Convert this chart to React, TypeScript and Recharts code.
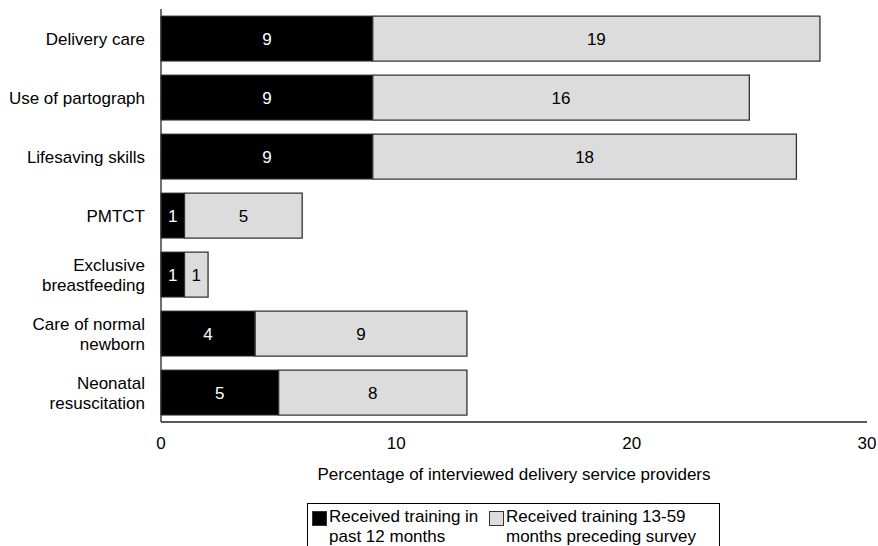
import React from 'react';
import { BarChart, Bar, XAxis, YAxis, Legend, LabelList } from 'recharts';

const categories = [
  'Delivery care',
  'Use of partograph',
  'Lifesaving skills',
  'PMTCT',
  'Exclusive\nbreastfeeding',
  'Care of normal\nnewborn',
  'Neonatal\nresuscitation',
];
const recent = [9, 9, 9, 1, 1, 4, 5];
const earlier = [19, 16, 18, 5, 1, 9, 8];
const xTicks = [0, 10, 20, 30];

const seriesNames = {
  recent: 'Received training in\npast 12 months',
  earlier: 'Received training 13-59\nmonths preceding survey',
};

const FONT = '"Liberation Sans", Arial, sans-serif';

const data = categories.map((name, i) => ({ name, recent: recent[i], earlier: earlier[i] }));

const CategoryTick = (props: any) => {
  const { x, y, payload } = props;
  const lines = String(payload.value).split('\n');
  const lineH = 20;
  const first = -((lines.length - 1) * lineH) / 2 + 6;
  return (
    <text x={x} y={y} textAnchor="end" fill="#000" fontSize={17} fontFamily={FONT}>
      {lines.map((l, i) => (
        <tspan key={i} x={x} dy={i === 0 ? first : lineH}>
          {l}
        </tspan>
      ))}
    </text>
  );
};

const LegendBox = () => {
  const items = [
    { label: seriesNames.recent, fill: '#000', width: 177 },
    { label: seriesNames.earlier, fill: '#dcdcdc', width: 230 },
  ];
  return (
    <div
      style={{
        border: '1px solid #000',
        height: 60,
        display: 'flex',
        paddingLeft: 4,
        paddingTop: 3,
        fontFamily: FONT,
        fontSize: 17,
        lineHeight: '20px',
        color: '#000',
        boxSizing: 'border-box',
        background: '#fff',
      }}
    >
      {items.map((it) => (
        <div key={it.label} style={{ display: 'flex', width: it.width }}>
          <div
            style={{
              width: 13,
              height: 13,
              background: it.fill,
              border: '1px solid #333',
              marginTop: 4,
              marginRight: 2,
              flexShrink: 0,
            }}
          />
          <div style={{ whiteSpace: 'pre' }}>{it.label}</div>
        </div>
      ))}
    </div>
  );
};

export default function App() {
  return (
    <div style={{ position: 'absolute', left: 0, top: 0 }}>
      <BarChart
        width={878}
        height={546}
        data={data}
        layout="vertical"
        margin={{ top: 9, right: 11, left: 0, bottom: 84 }}
        barCategoryGap="12%"
        style={{ fontFamily: FONT }}
      >
        <XAxis
          type="number"
          domain={[0, 30]}
          ticks={xTicks}
          tickLine={false}
          tickSize={0}
          tickMargin={15}
          height={40}
          axisLine={{ stroke: '#222', strokeWidth: 1.3 }}
          tick={{ fill: '#000', fontSize: 17, fontFamily: FONT }}
          label={{
            value: 'Percentage of interviewed delivery service providers',
            position: 'bottom',
            offset: 6,
            fill: '#000',
            fontSize: 17,
            fontFamily: FONT,
          }}
        />
        <YAxis
          type="category"
          dataKey="name"
          width={161}
          tickLine={false}
          tickSize={0}
          tickMargin={16}
          axisLine={{ stroke: '#222', strokeWidth: 1.3 }}
          tick={<CategoryTick />}
          interval={0}
        />
        <Legend
          layout="horizontal"
          verticalAlign="middle"
          align="center"
          wrapperStyle={{ left: 307, top: 503, width: 413 }}
          content={<LegendBox />}
        />
        <Bar dataKey="recent" stackId="a" fill="#000" stroke="#333" strokeWidth={1} isAnimationActive={false}>
          <LabelList dataKey="recent" position="center" fill="#fff" fontSize={17} fontFamily={FONT} />
        </Bar>
        <Bar dataKey="earlier" stackId="a" fill="#dcdcdc" stroke="#333" strokeWidth={1.3} isAnimationActive={false}>
          <LabelList dataKey="earlier" position="center" fill="#000" fontSize={17} fontFamily={FONT} />
        </Bar>
      </BarChart>
    </div>
  );
}
